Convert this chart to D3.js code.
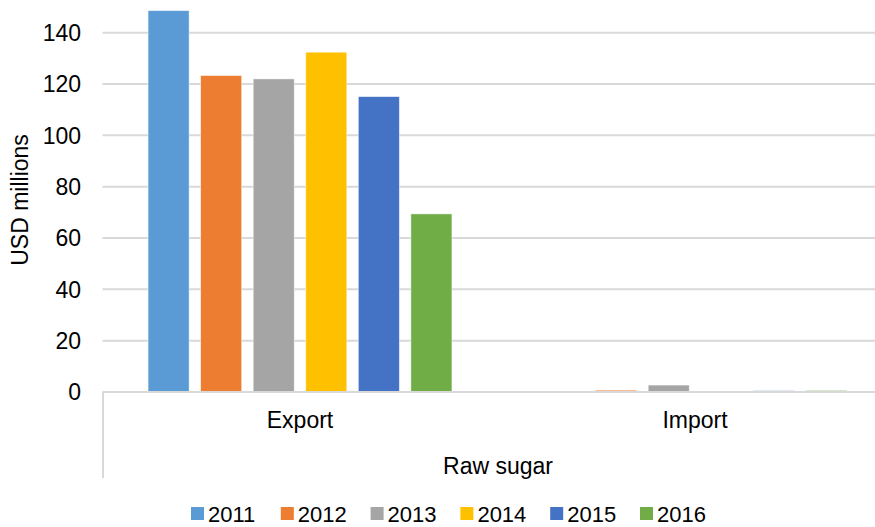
<!DOCTYPE html>
<html>
<head>
<meta charset="utf-8">
<script src="https://cdn.jsdelivr.net/npm/d3@7"></script>
<style>
  html, body { margin: 0; padding: 0; background: #fff; }
  text { font-family: "Liberation Sans", Arial, sans-serif; fill: #000; }
</style>
</head>
<body>
<svg id="chart" width="875" height="527"></svg>
<script>
// Raw sugar trade, USD millions
const categories = ["Export", "Import"];
const years = ["2011", "2012", "2013", "2014", "2015", "2016"];
const exportValues = [148.6, 123.3, 122.0, 132.4, 115.1, 69.4];
const importValues = [0, 0.7, 2.7, 0, 0.5, 0.6];
const yTicks = [0, 20, 40, 60, 80, 100, 120, 140];
const colors = ["#5B9BD5", "#ED7D31", "#A5A5A5", "#FFC000", "#4472C4", "#70AD47"];
const groupLabel = "Raw sugar";
const yTitle = "USD millions";

const seriesByCategory = { Export: exportValues, Import: importValues };

const svg = d3.select("#chart");
const fontSize = 23;

const plotLeft = 102.5, plotRight = 892.5;
const y = d3.scaleLinear().domain([0, 140]).range([392, 32.7]);
const x0 = d3.scaleBand().domain(categories).range([plotLeft, plotRight]);
const x1 = d3.scaleBand().domain(years).range([0, x0.bandwidth()])
  .paddingInner(0.219).paddingOuter(0.867);
const color = d3.scaleOrdinal().domain(years).range(colors);

// gridlines
svg.append("g").selectAll("line")
  .data(yTicks.filter(t => t > 0))
  .join("line")
  .attr("x1", plotLeft).attr("x2", 875)
  .attr("y1", d => y(d)).attr("y2", d => y(d))
  .attr("stroke", "#d9d9d9").attr("stroke-width", 2);

// y tick labels
svg.append("g").selectAll("text")
  .data(yTicks)
  .join("text")
  .attr("x", 81).attr("y", d => y(d))
  .attr("dy", "0.36em")
  .attr("text-anchor", "end")
  .style("font-size", fontSize + "px")
  .text(d => d);

// bars
const groups = svg.append("g").selectAll("g")
  .data(categories)
  .join("g")
  .attr("transform", c => `translate(${x0(c)},0)`);

groups.selectAll("rect")
  .data(c => years.map((yr, i) => ({ yr, v: seriesByCategory[c][i] })))
  .join("rect")
  .attr("x", d => x1(d.yr))
  .attr("width", x1.bandwidth())
  .attr("y", d => y(d.v))
  .attr("height", d => y(0) - y(d.v))
  .attr("fill", d => color(d.yr))
  .attr("stroke", "#fff").attr("stroke-width", 0.8).attr("stroke-opacity", 0.6);

// category axis baseline and outer tick
svg.append("line")
  .attr("x1", plotLeft).attr("x2", 875)
  .attr("y1", y(0)).attr("y2", y(0))
  .attr("stroke", "#d9d9d9").attr("stroke-width", 2);
svg.append("line")
  .attr("x1", plotLeft + 0.5).attr("x2", plotLeft + 0.5)
  .attr("y1", y(0)).attr("y2", 478)
  .attr("stroke", "#d9d9d9").attr("stroke-width", 2);

// category labels
svg.append("g").selectAll("text")
  .data(categories)
  .join("text")
  .attr("x", c => x0(c) + x0.bandwidth() / 2)
  .attr("y", 420).attr("dy", "0.36em")
  .attr("text-anchor", "middle")
  .style("font-size", fontSize + "px")
  .text(c => c);

svg.append("text")
  .attr("x", (plotLeft + plotRight) / 2 + 0.5)
  .attr("y", 466).attr("dy", "0.36em")
  .attr("text-anchor", "middle")
  .style("font-size", fontSize + "px")
  .text(groupLabel);

// y axis title
svg.append("text")
  .attr("transform", "translate(20,200) rotate(-90)")
  .attr("dy", "0.36em")
  .attr("text-anchor", "middle")
  .style("font-size", fontSize + "px")
  .text(yTitle);

// legend
const legendX = d3.scalePoint().domain(years).range([191, 640]);
const legend = svg.append("g").selectAll("g")
  .data(years)
  .join("g")
  .attr("transform", yr => `translate(${legendX(yr)},507)`);
legend.append("rect")
  .attr("width", 13).attr("height", 13)
  .attr("fill", yr => color(yr));
legend.append("text")
  .attr("x", 17).attr("y", 14.5)
  .style("font-size", "22px")
  .text(yr => yr);
</script>
</body>
</html>
